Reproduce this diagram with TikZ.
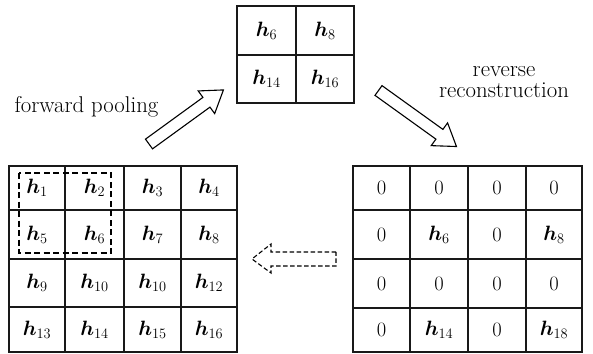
\documentclass[tikz,border=0pt]{standalone}
\usepackage{amsmath}
\usepackage{bm}
\begin{document}
\begin{tikzpicture}[x=1pt,y=-1pt,line join=miter,
  gridline/.style={line width=1.2pt,draw=black!90},
  val/.style={font=\fontsize{20.5}{24}\selectfont,inner sep=0pt},
  hollow/.style={draw=black,line width=1.1pt,fill=white},
  caption/.style={font=\fontsize{22.8}{21}\selectfont,align=center,inner sep=0pt},
  poolbox/.style={draw=black,line width=1.5pt,dash pattern=on 6pt off 3.5pt}]
\useasboundingbox (0,0) rectangle (593,353);

% ---- input feature map (4x4) ----
\draw[gridline] (9,166) rectangle (237,352);
\foreach \x in {65,124,181} \draw[gridline] (\x,166) -- (\x,352);
\foreach \y in {210,259,307} \draw[gridline] (9,\y) -- (237,\y);
\foreach \r/\y/\row in {1/188/{1,2,3,4},2/234.5/{5,6,7,8},3/283/{9,10,10,12},4/329.5/{13,14,15,16}}{
  \foreach \n [count=\c] in \row {
    \pgfmathsetmacro{\xc}{{37,94.5,152.5,209}[\c-1]}
    \node[val] (in-\r-\c) at (\xc,\y) {$\bm{h}_{\n}$};
  }
}
% pooling window
\draw[poolbox] (19,173) rectangle (111,253);

% ---- pooled map (2x2) ----
\draw[gridline] (237,6) rectangle (354,103);
\draw[gridline] (296,6) -- (296,103);
\draw[gridline] (237,55) -- (354,55);
\node[val] (p-1-1) at (266.5,30.5) {$\bm{h}_{6}$};
\node[val] (p-1-2) at (325,30.5) {$\bm{h}_{8}$};
\node[val] (p-2-1) at (266.5,79) {$\bm{h}_{14}$};
\node[val] (p-2-2) at (325,79) {$\bm{h}_{16}$};

% ---- reconstructed map (4x4) ----
\draw[gridline] (353,166) rectangle (582,352);
\foreach \x in {410,468,526} \draw[gridline] (\x,166) -- (\x,352);
\foreach \y in {210,259,308} \draw[gridline] (353,\y) -- (582,\y);
\foreach \r/\y/\row in {1/188/{0,0,0,0},2/234.5/{0,$\bm{h}_{6}$,0,$\bm{h}_{8}$},3/283.5/{0,0,0,0},4/330/{0,$\bm{h}_{14}$,0,$\bm{h}_{18}$}}{
  \foreach \n [count=\c] in \row {
    \pgfmathsetmacro{\xc}{{381.5,439,497,554}[\c-1]}
    \node[val] (out-\r-\c) at (\xc,\y) {\n};
  }
}

% ---- block arrows ----
\begin{scope}[shift={(149,144)},rotate=36]
  \draw[hollow] (0,6) -- (71,6) -- (71,14) -- (92,0) -- (71,-14) -- (71,-6) -- (0,-6) -- cycle;
\end{scope}
\begin{scope}[shift={(378.5,90.5)},rotate=-35.7]
  \draw[hollow] (0,6) -- (75,6) -- (75,14) -- (96,0) -- (75,-14) -- (75,-6) -- (0,-6) -- cycle;
\end{scope}
\draw[draw=black,line width=1.1pt,dash pattern=on 4.5pt off 2.5pt]
  (336,252) -- (271,252) -- (271,244) -- (252,259) -- (271,273) -- (271,266) -- (336,266) -- cycle;

% ---- captions ----
\node[caption,anchor=base] (fwd) at (86.5,112.7) {forward pooling};
\node[caption,anchor=base] (rev) at (504,97) {reverse\\reconstruction};
\end{tikzpicture}
\end{document}
